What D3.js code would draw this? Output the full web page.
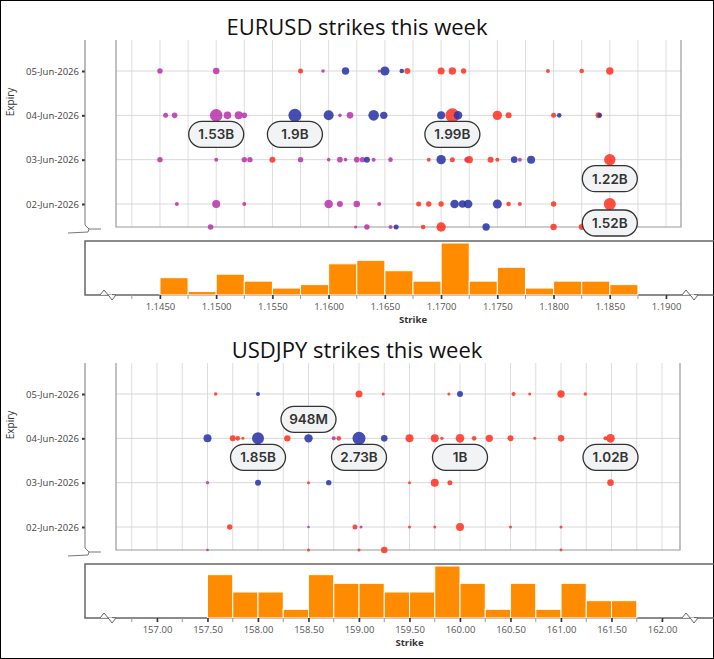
<!DOCTYPE html>
<html><head><meta charset="utf-8">
<script src="https://cdn.jsdelivr.net/npm/d3@7"></script>
<style>body{margin:0;background:#fff}svg{display:block}</style>
</head><body>
<svg id="c" width="714" height="659"></svg>
<script>
const expiries = ["02-Jun-2026","03-Jun-2026","04-Jun-2026","05-Jun-2026"];
// rows: 0 = below-break row, 1..4 = expiries
// [strike, row, radius, colour-type]  type: m=magenta, b=blue, r=red
const eurPoints = [
 [1.1450,4,2.7,"m"],[1.1500,4,3.3,"m"],[1.1575,4,2.5,"r"],[1.1595,4,1.8,"m"],[1.1615,4,3.7,"b"],
 [1.1645,4,1.6,"m"],[1.1650,4,4.6,"b"],[1.1665,4,2.3,"b"],[1.1670,4,3,"r"],[1.1700,4,3.5,"r"],[1.1710,4,3.7,"r"],[1.1720,4,2.7,"r"],[1.1795,4,2,"r"],[1.1825,4,2.3,"r"],[1.1850,4,3.7,"r"],
 [1.1455,3,2.5,"m"],[1.1463,3,2.8,"m"],[1.1500,3,6.3,"m"],[1.1510,3,3.8,"m"],[1.1520,3,4,"m"],[1.1525,3,2.8,"m"],[1.1570,3,6.5,"b"],[1.1600,3,5,"b"],[1.1610,3,1.8,"m"],[1.1619,3,3.3,"m"],
 [1.1640,3,5.3,"b"],[1.1649,3,3.7,"b"],[1.1700,3,4,"b"],[1.1710,3,7,"r"],[1.1715,3,4.3,"b"],[1.1750,3,4.7,"r"],[1.1760,3,3,"r"],[1.1800,3,2.5,"r"],[1.1805,3,2.3,"b"],[1.1840,3,3,"r"],[1.1841,3,2.3,"b"],
 [1.1450,2,2.7,"m"],[1.1500,2,2,"m"],[1.1525,2,2.7,"m"],[1.1530,2,2.7,"m"],[1.1550,2,3,"r"],[1.1575,2,2.7,"m"],[1.1600,2,1.8,"m"],[1.1610,2,2.8,"m"],[1.1615,2,1.8,"m"],[1.1625,2,2.8,"m"],
 [1.1630,2,2.7,"m"],[1.1634,2,3,"b"],[1.1640,2,2,"m"],[1.1655,2,2.3,"m"],[1.1689,2,2,"r"],[1.1700,2,4.7,"b"],[1.1710,2,2.5,"r"],[1.1723,2,2.7,"m"],[1.1725,2,3.7,"r"],[1.1744,2,3,"r"],[1.1750,2,2,"r"],[1.1765,2,3.3,"b"],[1.1770,2,2,"m"],[1.1780,2,4,"b"],[1.1850,2,5.7,"r"],
 [1.1465,1,2,"m"],[1.1500,1,4,"m"],[1.1525,1,2,"m"],[1.1600,1,4.3,"m"],[1.1610,1,3,"m"],[1.1625,1,3.3,"m"],[1.1645,1,2,"m"],[1.1680,1,2.5,"r"],[1.1689,1,2.7,"r"],[1.1700,1,2.7,"r"],
 [1.1712,1,4.3,"b"],[1.1719,1,3.7,"b"],[1.1724,1,4.3,"b"],[1.1750,1,4.5,"b"],[1.1760,1,2.3,"r"],[1.1770,1,2,"r"],[1.1800,1,2.7,"r"],[1.1850,1,6,"r"],
 [1.1495,0,2.8,"m"],[1.1624,0,1.6,"m"],[1.1634,0,2.7,"m"],[1.1655,0,2,"m"],[1.1660,0,2.5,"b"],[1.1684,0,2.3,"r"],[1.1700,0,4.7,"r"],[1.1740,0,3.7,"b"],[1.1800,0,3.2,"r"],[1.1825,0,3,"r"]
];
const eurLabels = [[1.1500,3,"1.53B",1],[1.1570,3,"1.9B",1],[1.1710,3,"1.99B",1],[1.1850,2,"1.22B",1],[1.1850,1,"1.52B",1]];
const eurBinStart = [1.1450,1.1475,1.1500,1.1525,1.1550,1.1575,1.1600,1.1625,1.1650,1.1675,1.1700,1.1725,1.1750,1.1775,1.1800,1.1825,1.1850];
const eurCounts = [5,1,6,4,2,3,9,10,7,4,15,4,8,2,4,4,3];
const eurTicks = [1.1450,1.1500,1.1550,1.1600,1.1650,1.1700,1.1750,1.1800,1.1850,1.1900];

const jpyPoints = [
 [157.58,4,1.7,"r"],[158.00,4,2,"b"],[159.00,4,3.5,"r"],[159.24,4,1.5,"r"],[159.89,4,1.5,"r"],[160.00,4,3,"b"],[160.53,4,2,"r"],[160.69,4,1.5,"r"],[161.00,4,3.7,"r"],[161.24,4,1.7,"r"],
 [157.50,3,4,"b"],[157.75,3,3,"r"],[157.80,3,2.3,"r"],[157.85,3,1.5,"r"],[158.00,3,6,"b"],[158.29,3,3.2,"r"],[158.50,3,4.2,"b"],[158.75,3,2,"m"],[158.80,3,2.3,"r"],[159.00,3,6.5,"b"],
 [159.25,3,3.3,"b"],[159.50,3,4,"r"],[159.75,3,4,"r"],[159.82,3,1.7,"r"],[160.00,3,4.3,"r"],[160.14,3,2.3,"r"],[160.29,3,3.7,"r"],[160.50,3,3,"r"],[160.74,3,1.5,"r"],[161.00,3,3.3,"r"],[161.44,3,2,"r"],[161.49,3,4.3,"r"],
 [157.50,2,1.7,"m"],[158.00,2,3,"b"],[158.50,2,1.5,"r"],[158.70,2,2.7,"b"],[159.50,2,1.5,"r"],[159.75,2,4,"r"],[159.90,2,2.5,"r"],[161.49,2,3.3,"r"],
 [157.72,1,2.7,"r"],[158.50,1,1.3,"m"],[158.96,1,2.5,"r"],[159.02,1,1.5,"m"],[159.50,1,1.5,"r"],[159.75,1,1.5,"r"],[160.00,1,4,"r"],[160.50,1,1.5,"r"],[161.00,1,1.5,"r"],
 [157.50,0,1.3,"m"],[158.50,0,1.5,"r"],[159.00,0,1.5,"r"],[159.25,0,3.3,"r"],[161.00,0,1.4,"r"]
];
const jpyLabels = [[158.50,3,"948M",-1],[158.00,3,"1.85B",1],[159.00,3,"2.73B",1],[160.00,3,"1B",1],[161.49,3,"1.02B",1]];
const jpyBinStart = [157.50,157.75,158.00,158.25,158.50,158.75,159.00,159.25,159.50,159.75,160.00,160.25,160.50,160.75,161.00,161.25,161.50];
const jpyCounts = [5,3,3,1,5,4,4,3,3,6,4,1,4,1,4,2,2];
const jpyTicks = [157,157.5,158,158.5,159,159.5,160,160.5,161,161.5,162];

const colors = {m:"#bb36ae", b:"#2a37a6", r:"#ff3526"};
const svg = d3.select("#c");
svg.append("rect").attr("x",0.5).attr("y",0.5).attr("width",713).attr("height",658).attr("fill","none").attr("stroke","#000");

function chart(o){
  const g = svg.append("g");
  const x = d3.scaleLinear().domain(o.xdom).range([116,o.right]);
  const y = d3.scaleLinear().domain([1,4]).range([o.top+164,o.top+31]);
  const yb = o.top+187;
  const ypos = r => r===0 ? yb : y(r);
  g.append("text").attr("x",357).attr("y",o.top-5).attr("text-anchor","middle")
   .attr("font-family","Open Sans, sans-serif").attr("font-size",22).attr("fill","#111").text(o.title);
  const minor = d3.range(Math.ceil(o.xdom[0]/o.step)*o.step, o.xdom[1], o.step);
  g.selectAll(".gv").data(minor).join("line").attr("x1",d=>x(d)).attr("x2",d=>x(d))
   .attr("y1",o.top).attr("y2",yb).attr("stroke","#ddd").attr("stroke-width",1);
  g.selectAll(".gh").data([1,2,3,4]).join("line").attr("x1",116).attr("x2",o.right)
   .attr("y1",d=>y(d)).attr("y2",d=>y(d)).attr("stroke","#d8d8d8");
  g.append("path").attr("d",`M116,${o.top}V${yb}H${o.right}V${o.top}`).attr("fill","none").attr("stroke","#999").attr("stroke-width",1.2);
  const ax = g.append("g").attr("transform","translate(85,0)")
    .call(d3.axisLeft(y).tickValues([1,2,3,4]).tickFormat(d=>expiries[d-1]).tickSize(3).tickPadding(3));
  ax.select(".domain").remove();
  ax.selectAll("line").attr("stroke","#333").attr("stroke-width",2);
  ax.selectAll("text").attr("font-family","Open Sans, sans-serif").attr("font-size",9.5).attr("fill","#444");
  g.append("path").attr("d",`M85,${o.top}V${yb-2}L89,${yb+2}L101,${yb+2}M68,${yb+6}L88,${yb+5}L89,${yb+2}`)
   .attr("fill","none").attr("stroke","#777").attr("stroke-width",1);
  g.append("text").attr("transform",`translate(14,${o.top+62}) rotate(-90)`).attr("text-anchor","middle")
   .attr("font-family","Open Sans, sans-serif").attr("font-size",10).attr("fill","#333").text("Expiry");
  g.selectAll(".pt").data(o.points).join("circle").attr("cx",d=>x(d[0])).attr("cy",d=>ypos(d[1]))
   .attr("r",d=>d[2]).attr("fill",d=>colors[d[3]]).attr("fill-opacity",0.88);
  const lg = g.selectAll(".lb").data(o.labels).join("g")
   .attr("transform",d=>`translate(${x(d[0])},${ypos(d[1])+d[3]*19})`);
  lg.append("rect").attr("x",-27.5).attr("width",55).attr("y",-13).attr("height",26).attr("rx",13)
   .attr("fill","#f2f3f5").attr("stroke","#333").attr("stroke-width",1.3);
  lg.append("text").attr("text-anchor","middle").attr("dy",5).attr("font-family","Inter, sans-serif")
   .attr("font-weight",600).attr("font-size",13.5).attr("fill","#333").text(d=>d[2]);
  const ht = o.top+201, hb = o.top+255;
  const hy = d3.scaleLinear().domain([0,o.hmax]).range([hb,ht+2]);
  g.append("path").attr("d",`M714,${ht}H85V${hb}H714`).attr("fill","none").attr("stroke","#666").attr("stroke-width",1.5);
  g.selectAll(".bar").data(o.bins).join("rect").attr("x",(d,i)=>x(d)).attr("width",(d,i)=>x(d+o.step)-x(d))
   .attr("y",(d,i)=>hy(o.counts[i])).attr("height",(d,i)=>hb-hy(o.counts[i]))
   .attr("fill","#ff8c00").attr("stroke","#fff").attr("stroke-width",1);
  g.selectAll(".mt").data(minor).join("line").attr("x1",d=>x(d)).attr("x2",d=>x(d)).attr("y1",hb).attr("y2",hb+4).attr("stroke","#999");
  const xa = g.append("g").attr("transform",`translate(0,${hb})`)
    .call(d3.axisBottom(x).tickValues(o.ticks).tickFormat(o.fmt).tickSize(4).tickPadding(4));
  xa.select(".domain").remove();
  xa.selectAll("line").attr("stroke","#333").attr("stroke-width",1.5);
  xa.selectAll("text").attr("font-family","Open Sans, sans-serif").attr("font-size",9.5).attr("fill","#555");
  g.append("text").attr("x",x(o.mid)).attr("y",hb+28).attr("text-anchor","middle").attr("font-family","Open Sans, sans-serif")
   .attr("font-weight",700).attr("font-size",9.5).attr("fill","#333").text("Strike");
  [108,690].forEach(cx=>g.append("path").attr("d",`M${cx-8},${hb}L${cx-4},${hb-5}L${cx+1},${hb+1}L${cx+4},${hb+5}L${cx+8},${hb}L${cx+4},${hb-0.5}`)
   .attr("fill","#fff").attr("stroke","#666").attr("stroke-width",1));
}
chart({title:"EURUSD strikes this week",top:40,xdom:[1.14109,1.19133],right:681,step:0.0025,points:eurPoints,labels:eurLabels,
  bins:eurBinStart,counts:eurCounts,hmax:15,ticks:eurTicks,fmt:d3.format(".4f"),mid:1.1675});
chart({title:"USDJPY strikes this week",top:363,xdom:[156.594,162.178],right:680,step:0.25,points:jpyPoints,labels:jpyLabels,
  bins:jpyBinStart,counts:jpyCounts,hmax:6,ticks:jpyTicks,fmt:d3.format(".2f"),mid:159.5});
</script>
</body></html>
